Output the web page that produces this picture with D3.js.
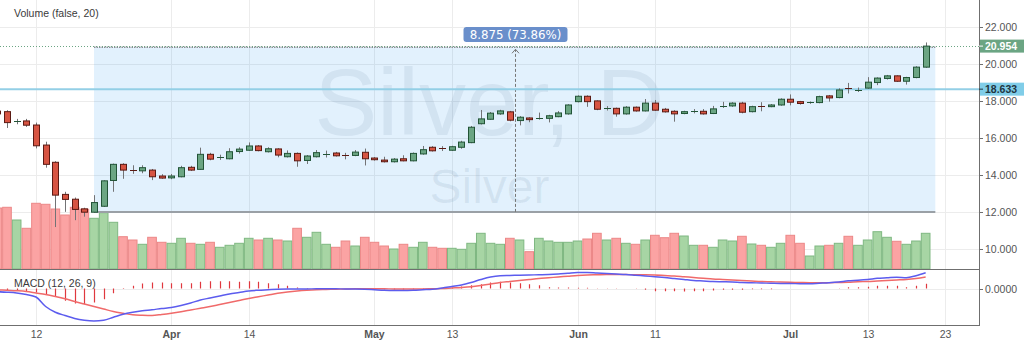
<!DOCTYPE html>
<html>
<head>
<meta charset="utf-8">
<script src="https://cdn.jsdelivr.net/npm/d3@7"></script>
<style>
  html, body { margin: 0; padding: 0; background: #fff; overflow: hidden; }
  svg { display: block; font-family: "Liberation Sans", Arial, sans-serif; }
</style>
</head>
<body>
<svg id="chart" width="1024" height="346"></svg>
<script>
// Daily sessions (2020), the last two are empty slots on the right of the time axis
const sessions = [
  "03-06","03-09","03-10","03-11","03-12","03-13","03-16","03-17","03-18","03-19","03-20",
  "03-23","03-24","03-25","03-26","03-27","03-30","03-31",
  "04-01","04-02","04-03","04-06","04-07","04-08","04-09","04-13","04-14","04-15","04-16","04-17",
  "04-20","04-21","04-22","04-23","04-24","04-27","04-28","04-29","04-30",
  "05-01","05-04","05-05","05-06","05-07","05-08","05-11","05-12","05-13","05-14","05-15",
  "05-18","05-19","05-20","05-21","05-22","05-25","05-26","05-27","05-28","05-29",
  "06-01","06-02","06-03","06-04","06-05","06-08","06-09","06-10","06-11","06-12",
  "06-15","06-16","06-17","06-18","06-19","06-22","06-23","06-24","06-25","06-26","06-29","06-30",
  "07-01","07-02","07-03","07-06","07-07","07-08","07-09","07-10","07-13","07-14","07-15","07-16",
  "07-17","07-20","07-21","07-22","07-23"
];

const opens = [
  17.45,17.42,16.86,16.92,16.70,15.62,14.69,12.96,12.70,12.18,12.00,12.32,13.71,14.58,14.30,14.23,14.27,13.95,
  13.85,13.91,14.42,14.31,15.12,14.93,14.88,15.27,15.34,15.57,15.26,15.41,14.99,15.17,14.79,14.99,15.13,15.19,15.07,15.06,15.23,
  14.92,14.81,14.72,14.88,14.77,15.14,15.50,15.44,15.34,15.50,15.75,16.77,17.01,17.30,17.41,16.94,17.08,17.03,17.06,17.15,17.30,
  17.96,18.25,18.00,17.58,17.60,17.30,17.66,17.46,17.88,17.55,17.44,17.32,17.43,17.44,17.32,17.66,17.73,17.88,17.42,17.70,17.69,17.78,
  18.09,17.96,17.87,17.91,18.27,18.18,18.69,18.58,18.69,18.99,19.21,19.35,19.06,19.26,19.82
];
const highs = [
  17.55,17.50,17.03,17.03,16.83,15.80,14.75,13.10,12.79,12.24,12.92,13.72,14.62,14.64,14.53,14.53,14.33,14.05,
  14.06,14.50,14.50,15.48,15.20,15.10,15.45,15.50,15.76,15.62,15.50,15.45,15.33,15.22,15.08,15.35,15.32,15.25,15.20,15.35,15.43,
  14.97,14.99,14.92,15.07,15.22,15.57,15.56,15.56,15.58,15.85,16.65,17.51,17.40,17.52,17.46,17.18,17.12,17.37,17.25,17.45,17.82,
  18.30,18.30,18.03,17.72,17.64,17.72,17.70,18.10,18.05,17.62,17.50,17.47,17.56,17.56,17.73,17.95,17.93,17.95,17.74,17.93,17.83,18.14,
  18.35,18.00,17.97,18.28,18.32,18.68,18.97,18.72,19.28,19.27,19.40,19.38,19.30,19.87,21.15
];
const lows = [
  17.15,16.54,16.74,16.60,15.44,14.40,11.20,12.02,11.57,11.76,11.97,12.28,13.10,13.80,14.07,14.10,13.73,13.80,
  13.78,13.88,14.22,14.28,14.80,14.82,14.85,15.16,15.30,15.28,15.22,14.96,14.95,14.45,14.60,14.95,14.95,15.00,14.85,15.02,14.52,
  14.78,14.68,14.68,14.74,14.74,15.10,15.27,15.30,15.30,15.42,15.72,16.73,16.98,17.25,16.90,16.68,16.85,16.99,16.84,17.12,17.26,
  17.92,17.68,17.50,17.48,17.15,17.26,17.42,17.43,17.46,17.37,16.88,17.28,17.33,17.26,17.29,17.62,17.68,17.33,17.38,17.44,17.66,17.74,
  17.76,17.80,17.84,17.87,17.96,18.14,18.40,18.48,18.65,18.85,19.15,19.02,18.88,19.22,19.78
];
const closes = [
  17.30,16.83,16.90,16.69,15.58,14.58,12.92,12.69,12.15,12.00,12.52,13.69,14.58,14.27,14.26,14.40,13.91,13.84,
  13.95,14.40,14.27,15.12,14.86,14.96,15.26,15.40,15.57,15.32,15.42,15.08,15.17,14.77,15.03,15.21,15.15,15.04,15.05,15.24,14.88,
  14.83,14.72,14.86,14.77,15.17,15.37,15.31,15.42,15.53,15.78,16.58,17.03,17.34,17.46,16.96,17.12,16.99,17.08,17.20,17.35,17.78,
  18.25,17.96,17.55,17.61,17.30,17.66,17.46,17.88,17.50,17.41,17.30,17.42,17.45,17.30,17.57,17.73,17.88,17.39,17.69,17.67,17.78,18.09,
  17.93,17.86,17.94,18.23,18.16,18.59,18.66,18.60,19.01,19.23,19.35,19.06,19.26,19.82,20.954
];
// Volume, thousands of contracts
const volumes = [
  61,61.7,49,40.7,65.7,64.7,60,54,61.7,59.7,50.7,56.3,46.7,32.3,29,24.7,31.7,26.7,
  25.7,30.7,25.7,24.7,26.7,21.7,23.7,25.7,30.7,29,30.7,29,28,40.7,31.7,36.7,24.7,21.7,28,23,31.7,
  26.7,23,20,24.7,21.7,26.7,21.7,20.7,20.7,19.7,25.7,35.7,25.7,24.7,30.7,29,17.3,30.7,28,26.7,26.7,
  28,30,35.7,29,30.7,25.7,24.7,29,33.7,31.3,35.7,33,23.7,23.7,21.7,29,28,32.7,25,23.7,21.7,25.7,
  33.7,25.7,13,23,23.7,25.7,32.7,23.7,29,37.3,31.7,27.7,24.7,28,35.7
];
// MACD (12, 26, 9): MACD line, signal line, histogram
const macdLine = [
  -0.13,-0.15,-0.18,-0.24,-0.34,-0.72,-0.95,-1.08,-1.20,-1.27,-1.30,-1.27,-1.15,-1.03,-0.95,-0.89,-0.85,-0.80,
  -0.76,-0.68,-0.58,-0.46,-0.38,-0.30,-0.22,-0.16,-0.10,-0.07,-0.05,-0.03,-0.02,-0.02,-0.02,-0.01,-0.01,-0.01,-0.02,-0.02,-0.03,
  -0.05,-0.07,-0.08,-0.08,-0.07,-0.05,-0.03,0.02,0.08,0.14,0.24,0.36,0.46,0.51,0.52,0.53,0.54,0.55,0.56,0.58,0.61,
  0.64,0.64,0.62,0.60,0.58,0.56,0.53,0.50,0.47,0.44,0.40,0.36,0.32,0.30,0.28,0.27,0.26,0.24,0.23,0.22,0.21,0.20,
  0.20,0.19,0.19,0.21,0.23,0.26,0.31,0.33,0.36,0.41,0.43,0.45,0.43,0.51,0.63
];
const signalLine = [
  -0.05,-0.07,-0.09,-0.12,-0.18,-0.24,-0.32,-0.41,-0.52,-0.62,-0.72,-0.82,-0.92,-0.99,-1.05,-1.07,-1.08,-1.04,
  -0.99,-0.93,-0.86,-0.79,-0.72,-0.64,-0.56,-0.48,-0.40,-0.33,-0.26,-0.19,-0.14,-0.10,-0.07,-0.05,-0.04,-0.03,-0.02,-0.01,-0.01,
  -0.01,-0.01,-0.02,-0.02,-0.02,-0.02,-0.01,0.00,0.02,0.04,0.07,0.12,0.18,0.24,0.28,0.32,0.36,0.40,0.43,0.46,0.49,
  0.52,0.54,0.55,0.56,0.56,0.56,0.55,0.55,0.54,0.52,0.50,0.47,0.44,0.41,0.38,0.36,0.34,0.32,0.30,0.28,0.27,0.26,
  0.25,0.24,0.23,0.23,0.23,0.24,0.25,0.27,0.28,0.30,0.32,0.34,0.36,0.40,0.46
];
const macdHist = [
  -0.06,-0.08,-0.09,-0.12,-0.16,-0.22,-0.33,-0.49,-0.60,-0.63,-0.56,-0.43,-0.19,-0.02,0.11,0.20,0.24,0.24,
  0.21,0.21,0.21,0.27,0.29,0.29,0.29,0.27,0.29,0.27,0.21,0.17,0.11,0.04,0.02,0.01,0.01,0.01,0.00,0.00,-0.01,
  -0.02,-0.03,-0.04,-0.04,-0.03,-0.02,-0.01,0.01,0.04,0.08,0.13,0.17,0.24,0.27,0.24,0.21,0.17,0.13,0.05,0.04,0.04,
  0.03,0.03,0.01,0.01,0.01,0.00,-0.01,-0.05,-0.11,-0.11,-0.11,-0.12,-0.11,-0.11,-0.08,-0.05,-0.05,-0.05,-0.03,-0.03,-0.03,0.00,
  0.00,0.00,0.00,0.00,0.00,0.01,0.05,0.05,0.07,0.11,0.11,0.11,0.05,0.11,0.19
];

const priceTicks = [10, 12, 14, 16, 18, 20, 22];
const timeTicks = ["03-12","04-01","04-14","05-01","05-13","06-01","06-11","07-01","07-13","07-23"];
const timeTickLabels = ["12","Apr","14","May","13","Jun","11","Jul","13","23"];
const monthTicks = ["Apr","May","Jun","Jul"];

const symbolName = "Silver";
const resolution = "D";
const lastPrice = 20.954;
const alertLevel = 18.633;
const rangeFrom = { session: "03-20", price: 12.016 };
const rangeTo   = { session: "07-22", price: 20.891 };

// ---- layout ----
const W = 1024, H = 346;
const axisX = 979;
const mainTop = 0, mainBottom = 269;
const macdTop = 269, macdBottom = 325;

const svg = d3.select("#chart");

const x = d3.scalePoint().domain(sessions).range([-2.7, 945]);
const step = x.step();
const y = d3.scaleLinear().domain([10, 22]).range([249.3, 26.7]);
const yVol = d3.scaleLinear().domain([0, 100]).range([mainBottom, mainBottom - 100]);
const yMacd = d3.scaleLinear().domain([-1.46, 0.78]).range([macdBottom, macdTop]);

const bars = closes.map((c, i) => ({
  s: sessions[i], o: opens[i], h: highs[i], l: lows[i], c: c,
  v: volumes[i], m: macdLine[i], sig: signalLine[i], hist: macdHist[i],
  up: c >= opens[i]
}));

const UP = "#6ba583", DOWN = "#d75442", UP_B = "#225437", DOWN_B = "#5b1a13", WICK = "#737375";

svg.append("defs").append("clipPath").attr("id", "clipMain")
  .append("rect").attr("x", 0).attr("y", mainTop).attr("width", axisX).attr("height", mainBottom - mainTop);
svg.select("defs").append("clipPath").attr("id", "clipMacd")
  .append("rect").attr("x", 0).attr("y", macdTop).attr("width", axisX).attr("height", macdBottom - macdTop);

// ---- grid ----
const grid = svg.append("g").attr("stroke", "#ececec").attr("stroke-width", 1);
priceTicks.forEach(p => {
  const yy = Math.round(y(p)) + 0.5;
  grid.append("line").attr("x1", 0).attr("x2", axisX).attr("y1", yy).attr("y2", yy);
});
timeTicks.forEach(t => {
  const xx = Math.round(x(t)) + 0.5;
  grid.append("line").attr("x1", xx).attr("x2", xx).attr("y1", 0).attr("y2", macdBottom);
});
grid.append("line").attr("x1", 0).attr("x2", axisX)
  .attr("y1", Math.round(yMacd(0)) + 0.5).attr("y2", Math.round(yMacd(0)) + 0.5);

const main = svg.append("g").attr("clip-path", "url(#clipMain)");

// ---- watermark ----
const wmX = axisX / 2;
main.append("text").attr("x", wmX).attr("y", 135).attr("text-anchor", "middle")
  .attr("font-size", 94).attr("fill", "rgba(60,80,110,0.09)").text(symbolName + ", " + resolution);
main.append("text").attr("x", wmX).attr("y", 203).attr("text-anchor", "middle")
  .attr("font-size", 48).attr("fill", "rgba(60,80,110,0.09)").text(symbolName);

// ---- price range measurement ----
const rx0 = x(rangeFrom.session), rx1 = x(rangeTo.session);
const ry0 = y(rangeFrom.price), ry1 = y(rangeTo.price);
main.append("rect").attr("x", rx0).attr("y", ry1).attr("width", rx1 - rx0).attr("height", ry0 - ry1)
  .attr("fill", "rgba(33,150,243,0.13)");

// ---- volume ----
main.append("g").selectAll("rect").data(bars).join("rect")
  .attr("x", d => x(d.s) - step / 2 + 0.5)
  .attr("width", step - 1)
  .attr("y", d => yVol(d.v))
  .attr("height", d => yVol(0) - yVol(d.v))
  .attr("fill", d => d.up ? "#a7d5a4" : "#fba3a3")
  .attr("stroke", d => d.up ? "#7fb882" : "#ec8787")
  .attr("stroke-width", 1);

// range borders
main.append("line").attr("x1", rx0).attr("x2", rx1).attr("y1", ry0).attr("y2", ry0)
  .attr("stroke", "#9aa0a6").attr("stroke-width", 2);
main.append("line").attr("x1", rx0).attr("x2", rx1).attr("y1", ry1).attr("y2", ry1)
  .attr("stroke", "#8a8f95").attr("stroke-width", 1.5).attr("stroke-dasharray", "1.5,1");
const midX = Math.round((rx0 + rx1) / 2) + 0.5;
main.append("line").attr("x1", midX).attr("x2", midX).attr("y1", ry0).attr("y2", ry1 + 2)
  .attr("stroke", "#777").attr("stroke-width", 1).attr("stroke-dasharray", "3,2");
main.append("path").attr("d", `M${midX - 3.5},${ry1 + 6}L${midX},${ry1 + 2}L${midX + 3.5},${ry1 + 6}`)
  .attr("fill", "none").attr("stroke", "#777").attr("stroke-width", 1);

// ---- horizontal price lines ----
main.append("line").attr("x1", 0).attr("x2", axisX).attr("y1", y(alertLevel)).attr("y2", y(alertLevel))
  .attr("stroke", "#93cfe6").attr("stroke-width", 2);
main.append("line").attr("x1", 0).attr("x2", axisX)
  .attr("y1", Math.round(y(lastPrice)) + 0.5).attr("y2", Math.round(y(lastPrice)) + 0.5)
  .attr("stroke", UP).attr("stroke-width", 1).attr("stroke-dasharray", "1,2");

// ---- candles ----
const cg = main.append("g");
bars.forEach(d => {
  const cx = Math.round(x(d.s));
  cg.append("line").attr("x1", cx + 0.5).attr("x2", cx + 0.5)
    .attr("y1", y(d.h)).attr("y2", y(d.l)).attr("stroke", WICK).attr("stroke-width", 1);
  const top = y(Math.max(d.o, d.c)), bot = y(Math.min(d.o, d.c));
  const hgt = bot - top;
  if (hgt < 1.5) {
    cg.append("line").attr("x1", cx - 3).attr("x2", cx + 4)
      .attr("y1", Math.round(top) + 0.5).attr("y2", Math.round(top) + 0.5)
      .attr("stroke", d.up ? UP_B : DOWN_B).attr("stroke-width", 1);
  } else {
    cg.append("rect").attr("x", cx - 2.5).attr("width", 6)
      .attr("y", top).attr("height", hgt)
      .attr("fill", d.up ? UP : DOWN).attr("stroke", d.up ? UP_B : DOWN_B).attr("stroke-width", 1);
  }
});

// ---- measurement label ----
const diff = rangeTo.price - rangeFrom.price;
const pct = diff / rangeFrom.price * 100;
const lblW = 104, lblH = 15;
svg.append("rect").attr("x", midX - lblW / 2).attr("y", 27).attr("width", lblW).attr("height", lblH)
  .attr("rx", 3).attr("fill", "#6a8fcb");
svg.append("text").attr("x", midX).attr("y", 27 + lblH / 2).attr("dy", "0.36em")
  .attr("text-anchor", "middle").attr("font-family", "'DejaVu Sans', Verdana, sans-serif")
  .attr("font-size", 11.8).attr("fill", "#fff")
  .text(`${d3.format(".3f")(diff)} (${d3.format(".2f")(pct)}%)`);

// ---- MACD pane ----
const mg = svg.append("g").attr("clip-path", "url(#clipMacd)");
mg.append("g").selectAll("line").data(bars).join("line")
  .attr("x1", d => Math.round(x(d.s)) + 0.5).attr("x2", d => Math.round(x(d.s)) + 0.5)
  .attr("y1", yMacd(0)).attr("y2", d => yMacd(d.hist))
  .attr("stroke", "#e0383e").attr("stroke-width", 1.2);
const lineGen = key => d3.line().x(d => x(d.s)).y(d => yMacd(d[key])).curve(d3.curveMonotoneX);
mg.append("path").datum(bars).attr("d", lineGen("sig"))
  .attr("fill", "none").attr("stroke", "#f06a6a").attr("stroke-width", 1.5);
mg.append("path").datum(bars).attr("d", lineGen("m"))
  .attr("fill", "none").attr("stroke", "#5c5cee").attr("stroke-width", 1.5);

// ---- frames ----
const frame = svg.append("g").attr("stroke", "#6f6f6f").attr("stroke-width", 1);
frame.append("line").attr("x1", axisX + 0.5).attr("x2", axisX + 0.5).attr("y1", 0).attr("y2", macdBottom);
frame.append("line").attr("x1", 0).attr("x2", axisX + 1).attr("y1", mainBottom + 0.5).attr("y2", mainBottom + 0.5);
frame.append("line").attr("x1", 0).attr("x2", axisX + 1).attr("y1", macdBottom + 0.5).attr("y2", macdBottom + 0.5);

// ---- price axis ----
const ax = svg.append("g").attr("font-size", 10.5).attr("fill", "#555");
priceTicks.forEach(p => {
  const yy = Math.round(y(p)) + 0.5;
  ax.append("line").attr("x1", axisX).attr("x2", axisX + 4).attr("y1", yy).attr("y2", yy).attr("stroke", "#6f6f6f");
  ax.append("text").attr("x", axisX + 6).attr("y", yy).attr("dy", "0.36em").text(d3.format(".3f")(p));
});
{
  const yy = Math.round(yMacd(0)) + 0.5;
  ax.append("line").attr("x1", axisX).attr("x2", axisX + 4).attr("y1", yy).attr("y2", yy).attr("stroke", "#6f6f6f");
  ax.append("text").attr("x", axisX + 6).attr("y", yy).attr("dy", "0.36em").text(d3.format(".4f")(0));
}

// value badges on the price axis
function badge(val, fill, color) {
  const yy = y(val);
  svg.append("rect").attr("x", axisX + 1).attr("y", yy - 6.5).attr("width", W - axisX - 1).attr("height", 13)
    .attr("fill", fill);
  svg.append("line").attr("x1", axisX).attr("x2", axisX + 4).attr("y1", yy).attr("y2", yy).attr("stroke", color);
  svg.append("text").attr("x", axisX + 6).attr("y", yy).attr("dy", "0.36em")
    .attr("font-size", 10.5).attr("font-weight", "bold").attr("fill", color).text(d3.format(".3f")(val));
}
badge(lastPrice, UP, "#fff");
badge(alertLevel, "#80cde8", "#1f3540");

// ---- time axis ----
const tx = svg.append("g").attr("font-size", 10.5).attr("fill", "#555").attr("text-anchor", "middle");
timeTicks.forEach((t, i) => {
  const lbl = timeTickLabels[i];
  tx.append("text").attr("x", Math.round(x(t)) + 0.5).attr("y", 338)
    .attr("font-weight", monthTicks.includes(lbl) ? "bold" : "normal").text(lbl);
});

// ---- study titles ----
svg.append("text").attr("x", 14).attr("y", 17).attr("font-size", 10.5).attr("fill", "#3a3a3a").text("Volume (false, 20)");
svg.append("text").attr("x", 14).attr("y", 287).attr("font-size", 10.5).attr("fill", "#3a3a3a").text("MACD (12, 26, 9)");
</script>
</body>
</html>
